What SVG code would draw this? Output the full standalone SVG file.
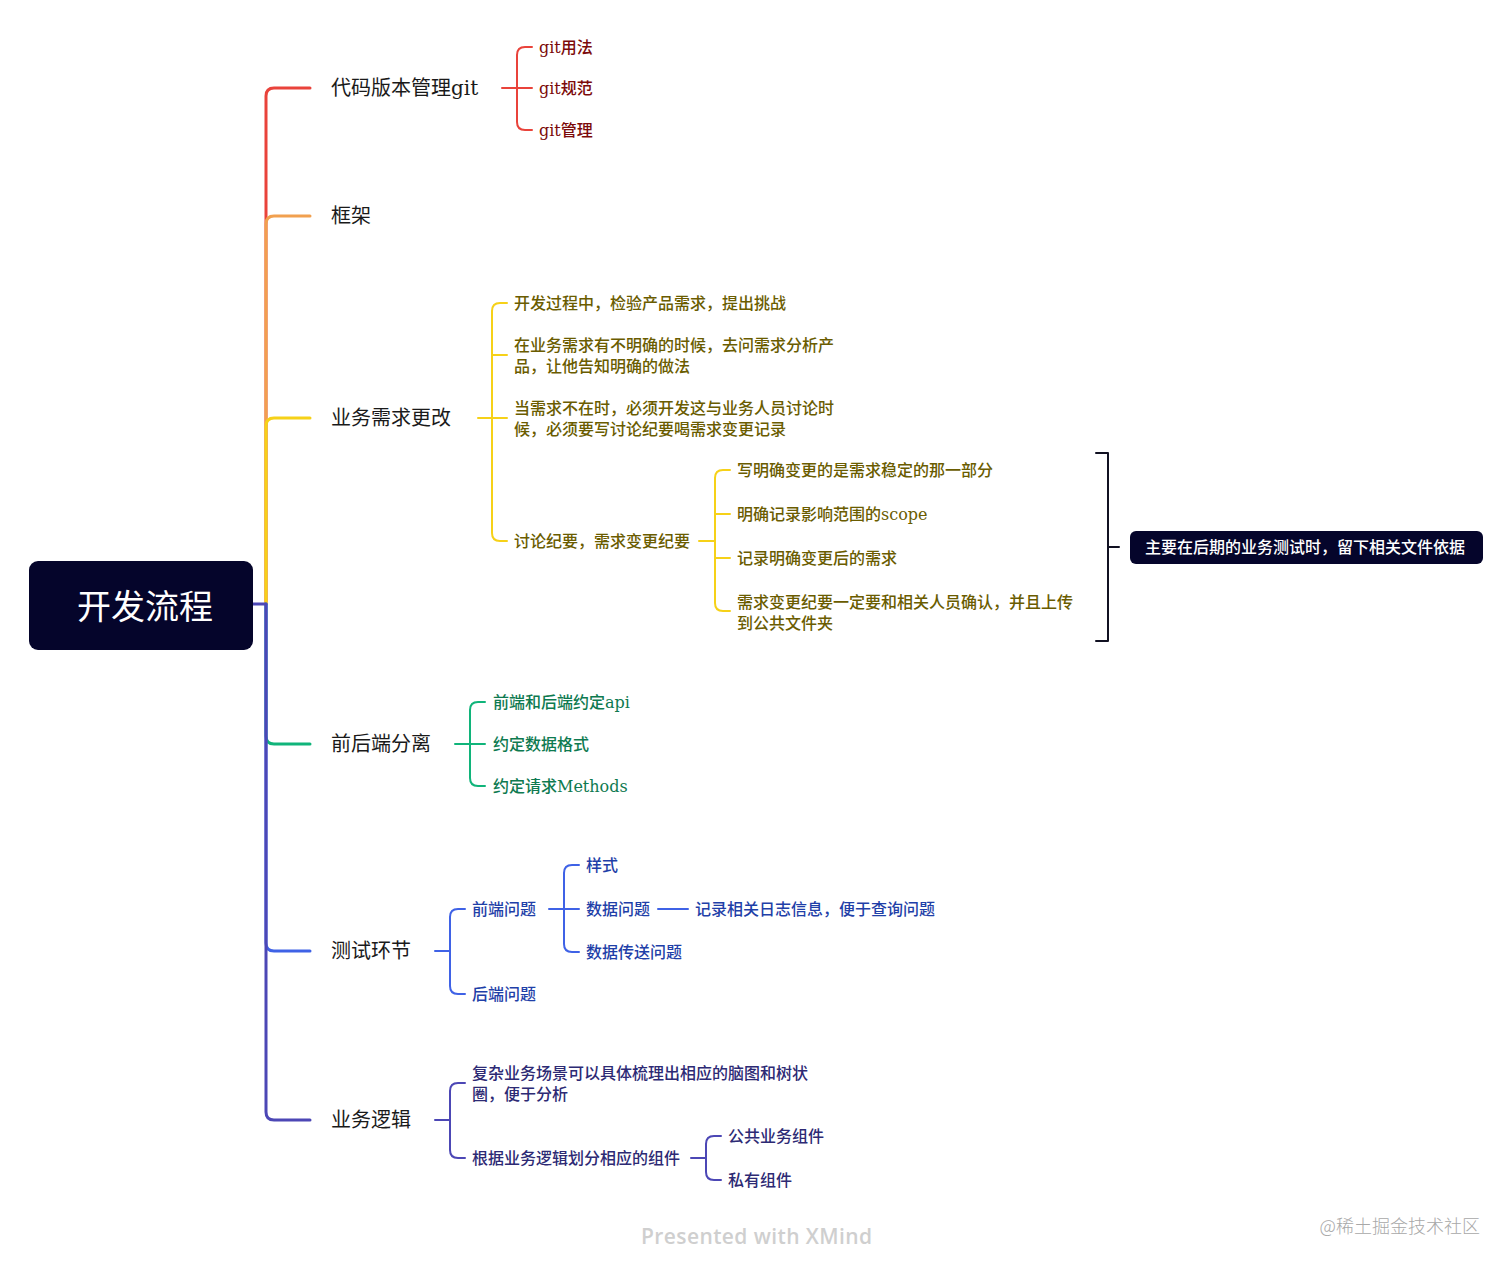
<svg xmlns="http://www.w3.org/2000/svg" width="1512" height="1267" viewBox="0 0 1512 1267">
<style>
text{font-family:"DejaVu Serif","Noto Sans CJK SC",sans-serif;dominant-baseline:central}
.main{font-size:20px;fill:#1a1a1a}
.c{font-size:16px;font-weight:500}
.red{fill:#7c0a0a}.yel{fill:#6a5c00}.grn{fill:#0e7a50}.blu{fill:#1f3fa8}.pur{fill:#2d2a74}
.ln{fill:none;stroke-linecap:round;stroke-linejoin:round}
.m{stroke-width:3}.s{stroke-width:2}
</style>
<rect width="1512" height="1267" fill="#ffffff"/>
<g id="connectors" class="ln">
<path class="m" stroke="#e9433b" d="M266,604 V96 Q266,88 274,88 H310"/>
<path class="m" stroke="#f1a04f" d="M266,604 V224 Q266,216 274,216 H310"/>
<path class="m" stroke="#f6d118" d="M266,604 V426 Q266,418 274,418 H310"/>
<path class="m" stroke="#10b47a" d="M266,604 V736 Q266,744 274,744 H310"/>
<path class="m" stroke="#3f62e6" d="M266,604 V943 Q266,951 274,951 H310"/>
<path class="m" stroke="#4c47b5" d="M253,604 H266 V1112 Q266,1120 274,1120 H310"/>
<path class="s" stroke="#e9433b" d="M502,88 H532 M532,47 H525 Q517,47 517,55 V122 Q517,130 525,130 H532"/>
<path class="s" stroke="#f6d118" d="M478,418 H507 M492,355 H507 M507,303 H500 Q492,303 492,311 V533 Q492,541 500,541 H507"/>
<path class="s" stroke="#f6d118" d="M699,541 H715 M715,514 H730 M715,558 H730 M730,470 H723 Q715,470 715,478 V603 Q715,611 723,611 H730"/>
<path class="s" stroke="#111122" d="M1096,453 H1108 V641 H1096 M1108,547 H1119"/>
<path class="s" stroke="#10b47a" d="M455,744 H485 M485,702 H478 Q470,702 470,710 V778 Q470,786 478,786 H485"/>
<path class="s" stroke="#3f62e6" d="M435,951 H450 M465,909 H458 Q450,909 450,917 V986 Q450,994 458,994 H465"/>
<path class="s" stroke="#3f62e6" d="M549,909 H579 M579,865 H572 Q564,865 564,873 V944 Q564,952 572,952 H579"/>
<path class="s" stroke="#3f62e6" d="M658,909 H688"/>
<path class="s" stroke="#4c47b5" d="M435,1120 H450 M465,1083 H458 Q450,1083 450,1091 V1150 Q450,1158 458,1158 H465"/>
<path class="s" stroke="#4c47b5" d="M691,1158 H706 M721,1136 H714 Q706,1136 706,1144 V1172 Q706,1180 714,1180 H721"/>
</g>
<g id="root">
<rect x="29" y="561" width="224" height="89" rx="9" fill="#05052b"/>
<text x="145" y="604" text-anchor="middle" style="font-size:34px;fill:#ffffff;font-family:'Noto Sans CJK SC',sans-serif">开发流程</text>
</g>
<g id="n-git"><text class="main" x="331" y="88">代码版本管理git</text></g>
<g id="n-git1"><text class="c red" x="539" y="47">git用法</text></g>
<g id="n-git2"><text class="c red" x="539" y="88">git规范</text></g>
<g id="n-git3"><text class="c red" x="539" y="130">git管理</text></g>
<g id="n-frame"><text class="main" x="331" y="216">框架</text></g>
<g id="n-req"><text class="main" x="331" y="418">业务需求更改</text></g>
<g id="n-req1"><text class="c yel" x="514" y="303">开发过程中，检验产品需求，提出挑战</text></g>
<g id="n-req2"><text class="c yel" x="514" y="345">在业务需求有不明确的时候，去问需求分析产</text><text class="c yel" x="514" y="366">品，让他告知明确的做法</text></g>
<g id="n-req3"><text class="c yel" x="514" y="408">当需求不在时，必须开发这与业务人员讨论时</text><text class="c yel" x="514" y="429">候，必须要写讨论纪要喝需求变更记录</text></g>
<g id="n-req4"><text class="c yel" x="514" y="541">讨论纪要，需求变更纪要</text></g>
<g id="n-d1"><text class="c yel" x="737" y="470">写明确变更的是需求稳定的那一部分</text></g>
<g id="n-d2"><text class="c yel" x="737" y="514">明确记录影响范围的scope</text></g>
<g id="n-d3"><text class="c yel" x="737" y="558">记录明确变更后的需求</text></g>
<g id="n-d4"><text class="c yel" x="737" y="602">需求变更纪要一定要和相关人员确认，并且上传</text><text class="c yel" x="737" y="623">到公共文件夹</text></g>
<g id="n-summary">
<rect x="1130" y="531" width="353" height="33" rx="6" fill="#05052b"/>
<text x="1145" y="547" style="font-size:16px;font-weight:500;fill:#ffffff">主要在后期的业务测试时，留下相关文件依据</text>
</g>
<g id="n-fb"><text class="main" x="331" y="744">前后端分离</text></g>
<g id="n-fb1"><text class="c grn" x="493" y="702">前端和后端约定api</text></g>
<g id="n-fb2"><text class="c grn" x="493" y="744">约定数据格式</text></g>
<g id="n-fb3"><text class="c grn" x="493" y="786">约定请求Methods</text></g>
<g id="n-test"><text class="main" x="331" y="951">测试环节</text></g>
<g id="n-t1"><text class="c blu" x="472" y="909">前端问题</text></g>
<g id="n-t2"><text class="c blu" x="472" y="994">后端问题</text></g>
<g id="n-t11"><text class="c blu" x="586" y="865">样式</text></g>
<g id="n-t12"><text class="c blu" x="586" y="909">数据问题</text></g>
<g id="n-t13"><text class="c blu" x="586" y="952">数据传送问题</text></g>
<g id="n-t121"><text class="c blu" x="695" y="909">记录相关日志信息，便于查询问题</text></g>
<g id="n-logic"><text class="main" x="331" y="1120">业务逻辑</text></g>
<g id="n-l1"><text class="c pur" x="472" y="1073">复杂业务场景可以具体梳理出相应的脑图和树状</text><text class="c pur" x="472" y="1094">圈，便于分析</text></g>
<g id="n-l2"><text class="c pur" x="472" y="1158">根据业务逻辑划分相应的组件</text></g>
<g id="n-l21"><text class="c pur" x="728" y="1136">公共业务组件</text></g>
<g id="n-l22"><text class="c pur" x="728" y="1180">私有组件</text></g>
<g id="footer">
<text x="641" y="1236" style="font-family:'Open Sans',sans-serif;font-size:21px;font-weight:600;letter-spacing:0.4px;fill:#cfcfcf">Presented with XMind</text>
<text x="1480" y="1225" text-anchor="end" style="font-family:'Noto Sans CJK SC',sans-serif;font-size:18px;font-weight:300;fill:#a8a8a8">@稀土掘金技术社区</text>
</g>
</svg>
